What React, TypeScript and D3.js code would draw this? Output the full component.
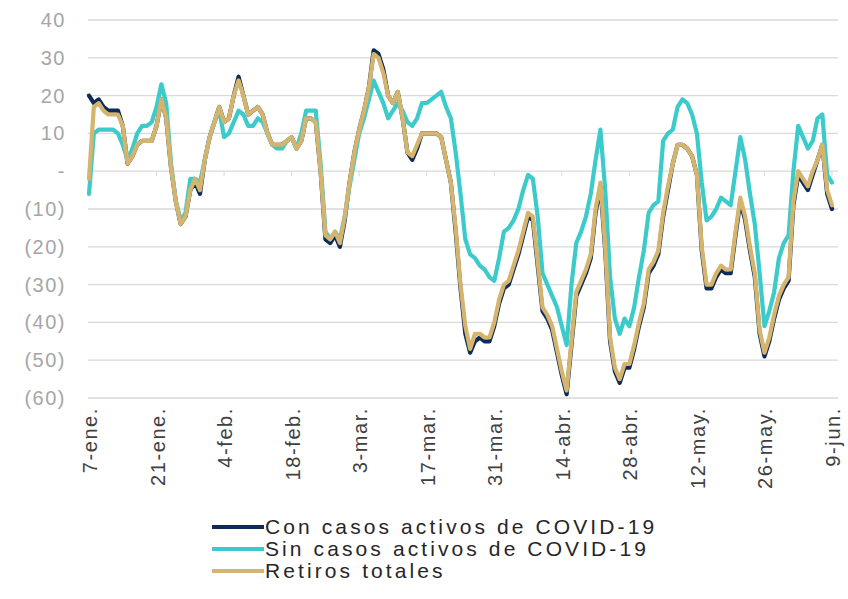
import React from 'react';
import * as d3 from 'd3';

// daily values, 7-ene. (day 0) to 9-jun. (day 154)
const conCasos = [
  20, 18, 19, 17, 16, 16, 16, 12, 2, 4, 7, 8, 8, 8, 12, 19, 14, 1, -8, -14,
  -12, -5, -3, -6, 3, 9, 13, 17, 13, 14, 20, 25, 20, 15, 16, 17, 15, 10, 7, 7,
  7, 8, 9, 6, 8, 14, 14, 13, 0, -18, -19, -17, -20, -13, -3, 5, 11, 16, 22, 32,
  31, 27, 20, 18, 21, 14, 5, 3, 6, 10, 10, 10, 10, 9, 3, -3, -16, -31, -43, -48,
  -45, -44, -45, -45, -41, -35, -31, -30, -26, -22, -17, -12, -13, -25, -37, -39, -42, -48, -54, -59,
  -46, -33, -30, -27, -23, -11, -4, -21, -45, -53, -56, -52, -52, -47, -41, -36, -27, -25, -22, -12,
  -5, 2, 7, 7, 6, 4, -1, -21, -31, -31, -28, -26, -27, -27, -17, -8, -13, -21, -28, -43,
  -49, -45, -39, -34, -31, -29, -9, -1, -3, -5, -1, 3, 7, -6, -10,
];

const sinCasos = [
  -6, 10, 11, 11, 11, 11, 10, 7, 3, 6, 10, 12, 12, 13, 17, 23, 18, 2, -8, -13,
  -11, -2, -2, -3, 3, 9, 13, 16, 9, 10, 13, 16, 15, 12, 12, 14, 13, 10, 7, 6,
  6, 8, 9, 6, 10, 16, 16, 16, 2, -16, -18, -16, -18, -12, -4, 3, 10, 14, 19, 24,
  21, 18, 14, 16, 18, 16, 13, 12, 14, 18, 18, 19, 20, 21, 17, 14, 5, -6, -18, -22,
  -23, -25, -26, -28, -29, -23, -16, -15, -13, -10, -5, -1, -2, -12, -27, -30, -33, -36, -41, -46,
  -30, -19, -16, -12, -6, 3, 11, -5, -28, -39, -43, -39, -41, -36, -28, -21, -11, -9, -8, 8,
  10, 11, 17, 19, 18, 15, 10, -3, -13, -12, -10, -7, -8, -9, 0, 9, 3, -6, -14, -27,
  -41, -37, -32, -23, -19, -17, 0, 12, 9, 6, 8, 14, 15, -1, -3,
];

const retirosTotales = [
  -2, 17, 18, 16, 15, 15, 15, 12, 2, 4, 7, 8, 8, 8, 12, 19, 14, 1, -8, -14,
  -12, -5, -2, -5, 3, 9, 13, 17, 13, 14, 20, 24, 20, 15, 16, 17, 15, 10, 7, 7,
  7, 8, 9, 6, 8, 14, 14, 13, 0, -17, -18, -16, -19, -12, -3, 5, 11, 16, 22, 31,
  30, 26, 20, 18, 21, 14, 5, 4, 7, 10, 10, 10, 10, 9, 3, -3, -15, -30, -41, -47,
  -43, -43, -44, -44, -40, -34, -30, -29, -25, -21, -16, -11, -12, -24, -36, -38, -41, -47, -53, -58,
  -45, -32, -29, -26, -22, -10, -3, -20, -44, -52, -55, -51, -51, -46, -40, -35, -26, -24, -21, -11,
  -4, 2, 7, 7, 6, 4, -1, -20, -30, -30, -27, -25, -26, -26, -16, -7, -12, -20, -27, -42,
  -48, -44, -38, -33, -30, -28, -8, 0, -2, -4, 0, 3, 7, -5, -9,
];

const tickDays = [0, 14, 28, 42, 56, 70, 84, 98, 112, 126, 140, 154];
const tickLabels = ['7-ene.', '21-ene.', '4-feb.', '18-feb.', '3-mar.', '17-mar.', '31-mar.', '14-abr.', '28-abr.', '12-may.', '26-may.', '9-jun.'];
const yTicks = [40, 30, 20, 10, 0, -10, -20, -30, -40, -50, -60];

const seriesNames = ['Con casos activos de COVID-19', 'Sin casos activos de COVID-19', 'Retiros totales'];
const seriesColors = ['#0e2b58', '#3ccaca', '#d5b46e'];

const W = 848;
const H = 599;

function fmtY(v: number) {
  if (v === 0) return '-';
  if (v < 0) return '(' + -v + ')';
  return String(v);
}

export default function App() {
  const x = d3.scaleLinear().domain([0, 154]).range([89, 832]);
  const y = d3.scaleLinear().domain([-60, 40]).range([398, 20]);
  const line = d3.line<number>()
    .x((d, i) => x(i))
    .y(d => y(d));

  const series = [conCasos, sinCasos, retirosTotales];
  const font = '"Liberation Sans", Arial, sans-serif';

  return (
    <svg width={W} height={H} style={{ position: 'absolute', left: 0, top: 0, background: '#fff' }}>
      {yTicks.map(t => (
        <g key={t}>
          <line x1={88} x2={838} y1={y(t)} y2={y(t)} stroke="#d9d9d9" strokeWidth={1.3} />
          <text x={66} y={y(t)} dy="0.35em" textAnchor="end" fontFamily={font} fontSize={20}
            letterSpacing={1.5} fill="#a6a6a6">{fmtY(t)}</text>
        </g>
      ))}
      {tickDays.map((d, i) => (
        <g key={d}>
          <line x1={x(d)} x2={x(d)} y1={y(0)} y2={y(0) + 5} stroke="#d9d9d9" strokeWidth={1} />
          <text transform={`translate(${x(d) + 8},407) rotate(-90)`} textAnchor="end"
            fontFamily={font} fontSize={20} letterSpacing={1.6} fill="#404040">{tickLabels[i]}</text>
        </g>
      ))}
      {series.map((s, i) => (
        <path key={i} d={line(s) || ''} fill="none" stroke={seriesColors[i]} strokeWidth={4.2}
          strokeLinejoin="round" strokeLinecap="round" />
      ))}
      {seriesNames.map((n, i) => (
        <g key={n} transform={`translate(212,${527 + i * 22})`}>
          <line x1={0} x2={52} y1={0} y2={0} stroke={seriesColors[i]} strokeWidth={4} />
          <text x={53} y={0} dy="0.35em" fontFamily={font} fontSize={21} letterSpacing={3.1}
            fill="#262626">{n}</text>
        </g>
      ))}
    </svg>
  );
}
